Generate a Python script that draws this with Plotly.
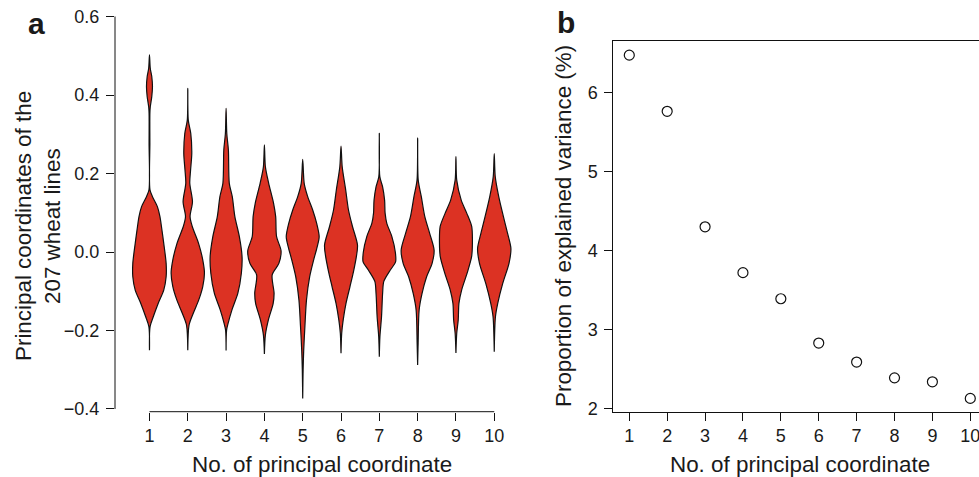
import plotly.graph_objects as go

# ---------------- data ----------------
pc = list(range(1, 11))
pc_labels = [str(i) for i in pc]

# Panel a: violin outlines
# (PC score levels and relative kernel-density width at each level)
v1_y = [0.502, 0.468, 0.447, 0.421, 0.396, 0.370, 0.353, 0.277, 0.158, 0.141, 0.115, 0.090, 0.065, 0.022, -0.029, -0.063, -0.097, -0.131, -0.165, -0.190, -0.250]
v1_d = [0, 0.8, 2.3, 3.0, 2.3, 0.8, 0.4, 0.4, 0.5, 3.0, 8.0, 10.5, 12.0, 14.3, 16.7, 16.7, 14.3, 8.7, 3.8, 0.6, 0]
v2_y = [0.417, 0.336, 0.302, 0.251, 0.209, 0.175, 0.128, 0.090, 0.065, 0.022, -0.020, -0.054, -0.088, -0.122, -0.156, -0.186, -0.250]
v2_d = [0, 0.5, 3.0, 4.0, 2.8, 2.0, 4.7, 2.3, 4.5, 10.8, 15.0, 16.7, 15.0, 11.0, 5.5, 1.3, 0]
v3_y = [0.366, 0.302, 0.260, 0.175, 0.141, 0.090, 0.039, -0.012, -0.054, -0.105, -0.148, -0.182, -0.199, -0.251]
v3_d = [0, 0.7, 2.3, 3.2, 6.2, 8.8, 13.3, 16.0, 15.3, 11.8, 5.8, 2.0, 0.5, 0]
v4_y = [0.273, 0.217, 0.175, 0.124, 0.090, 0.039, 0.003, -0.029, -0.058, -0.105, -0.131, -0.173, -0.211, -0.260]
v4_d = [0, 1.0, 4.3, 9.2, 11.3, 12.2, 16.7, 14.5, 7.8, 9.7, 8.8, 4.0, 1.0, 0]
v5_y = [0.236, 0.175, 0.141, 0.107, 0.073, 0.039, 0.013, -0.020, -0.063, -0.122, -0.190, -0.250, -0.301, -0.373]
v5_d = [0, 1.5, 5.0, 10.0, 14.0, 16.5, 14.5, 11.0, 7.0, 3.8, 2.2, 1.0, 0.4, 0]
v6_y = [0.270, 0.217, 0.158, 0.107, 0.065, 0.018, -0.010, -0.050, -0.088, -0.131, -0.173, -0.207, -0.258]
v6_d = [0, 1.2, 4.7, 7.5, 11.5, 16.5, 15.5, 12.5, 9.0, 5.0, 2.2, 0.7, 0]
v7_y = [0.302, 0.192, 0.166, 0.132, 0.099, 0.073, 0.040, 0.000, -0.025, -0.046, -0.075, -0.105, -0.165, -0.216, -0.267]
v7_d = [0, 0.5, 3.3, 5.3, 5.8, 7.5, 12.5, 16.0, 16.3, 11.0, 4.5, 3.3, 2.2, 0.6, 0]
v8_y = [0.291, 0.183, 0.141, 0.090, 0.048, 0.005, -0.029, -0.063, -0.105, -0.148, -0.233, -0.288]
v8_d = [0, 0.6, 3.7, 7.2, 12.0, 16.5, 14.5, 9.0, 4.5, 1.5, 0.5, 0]
v9_y = [0.243, 0.183, 0.132, 0.099, 0.065, 0.022, -0.012, -0.054, -0.097, -0.131, -0.173, -0.207, -0.257]
v9_d = [0, 0.8, 5.3, 10.8, 15.8, 16.5, 15.7, 11.2, 5.7, 3.0, 2.3, 0.8, 0]
v10_y = [0.251, 0.192, 0.141, 0.090, 0.048, 0.009, -0.029, -0.080, -0.131, -0.165, -0.254]
v10_d = [0, 1.0, 4.5, 9.2, 13.3, 16.7, 14.8, 8.5, 3.5, 1.2, 0]

violin_y = [v1_y, v2_y, v3_y, v4_y, v5_y, v6_y, v7_y, v8_y, v9_y, v10_y]
violin_d = [v1_d, v2_d, v3_d, v4_d, v5_d, v6_d, v7_d, v8_d, v9_d, v10_d]

a_yticks = [-0.4, -0.2, 0.0, 0.2, 0.4, 0.6]
a_yticktext = ["\u22120.4", "\u22120.2", "0.0", "0.2", "0.4", "0.6"]

# Panel b: proportion of explained variance (%)
explained = [6.47, 5.76, 4.30, 3.72, 3.39, 2.83, 2.59, 2.39, 2.34, 2.13]
b_yticks = [2, 3, 4, 5, 6]

# ---------------- style ----------------
W, H = 979, 477
FONT = "Liberation Sans, Arial, Helvetica, sans-serif"
TXT = "#1a1a1a"
RED = "#DC3223"
MAX_HALF = 0.435  # half-width (x units) of the widest violin
TICK_FS = 18
TITLE_FS = 22.4

def px_x(p):
    return p / W

def px_y(p):
    return (H - p) / H

fig = go.Figure()

dmax = max(max(d) for d in violin_d)
for k, (ys, ds) in enumerate(zip(violin_y, violin_d)):
    c = pc[k]
    half = [MAX_HALF * d / dmax for d in ds]
    xs = [c + h for h in half] + [c - h for h in reversed(half)]
    yy = list(ys) + list(reversed(ys))
    fig.add_trace(go.Scatter(
        x=xs, y=yy, mode="lines", fill="toself", fillcolor=RED,
        line=dict(color="#111111", width=1.2, shape="spline", smoothing=0.8),
        xaxis="x", yaxis="y", showlegend=False, hoverinfo="skip"))

fig.add_trace(go.Scatter(
    x=pc, y=explained, mode="markers",
    marker=dict(symbol="circle-open", size=10, color="#111111", line=dict(width=1.2)),
    xaxis="x2", yaxis="y2", showlegend=False))

ax_common = dict(showgrid=False, zeroline=False, ticks="outside", ticklen=8,
                 tickwidth=1, tickcolor="#111111", automargin=False,
                 ticklabeloverflow="allow",
                 tickfont=dict(family=FONT, size=TICK_FS, color=TXT))

fig.update_layout(
    width=W, height=H,
    margin=dict(l=0, r=0, t=0, b=0, autoexpand=False),
    paper_bgcolor="white", plot_bgcolor="white",
    font=dict(family=FONT, color=TXT),
    xaxis=dict(domain=[px_x(115), px_x(513.4)], range=[0.1, 10.5],
               tickmode="array", tickvals=pc, ticktext=pc_labels,
               showline=False, anchor="y", ticklabelstandoff=0, **ax_common),
    yaxis=dict(domain=[px_y(411.7), px_y(8.65)], range=[-0.4069, 0.62],
               tickmode="array", tickvals=a_yticks, ticktext=a_yticktext,
               showline=False, anchor="x", ticklabelstandoff=3, **ax_common),
    xaxis2=dict(domain=[px_x(613.3), 1.0], range=[0.578, 10.23],
                tickmode="array", tickvals=pc, ticktext=pc_labels,
                showline=True, linecolor="#111111", linewidth=1, mirror=True,
                anchor="y2", ticklabelstandoff=0, **ax_common),
    yaxis2=dict(domain=[px_y(411.7), px_y(41)], range=[1.962, 6.649],
                tickmode="array", tickvals=b_yticks, ticktext=[str(v) for v in b_yticks],
                showline=True, linecolor="#111111", linewidth=1, mirror=False,
                anchor="x2", ticklabelstandoff=3, **ax_common),
)

# R-style axis lines for panel a (spanning first to last tick)
fig.add_shape(type="line", xref="x domain", yref="y", x0=0, x1=0,
              y0=a_yticks[0], y1=a_yticks[-1], line=dict(color="#111111", width=1))
fig.add_shape(type="line", xref="x", yref="y domain", x0=pc[0], x1=pc[-1],
              y0=0, y1=0, line=dict(color="#111111", width=1))

ann = [
    dict(text="<b>a</b>", x=px_x(36.5), y=px_y(24), font=dict(size=30)),
    dict(text="<b>b</b>", x=px_x(565.5), y=px_y(23), font=dict(size=30)),
    dict(text="No. of principal coordinate", x=px_x(321.7), y=px_y(464), font=dict(size=TITLE_FS)),
    dict(text="No. of principal coordinate", x=px_x(800), y=px_y(464), font=dict(size=TITLE_FS)),
    dict(text="Principal coordinates of the", x=px_x(23), y=px_y(226), textangle=-90, font=dict(size=TITLE_FS)),
    dict(text="207 wheat lines", x=px_x(52), y=px_y(226), textangle=-90, font=dict(size=TITLE_FS)),
    dict(text="Proportion of explained variance (%)", x=px_x(563), y=px_y(226), textangle=-90, font=dict(size=TITLE_FS)),
]
for a in ann:
    a.setdefault("font", {})
    a["font"].update(family=FONT, color=TXT)
    fig.add_annotation(xref="paper", yref="paper", xanchor="center", yanchor="middle",
                       showarrow=False, **a)

fig.write_html("out.html", config={"displayModeBar": False},
               post_script="document.body.style.margin='0px';document.body.style.overflow='hidden';")
